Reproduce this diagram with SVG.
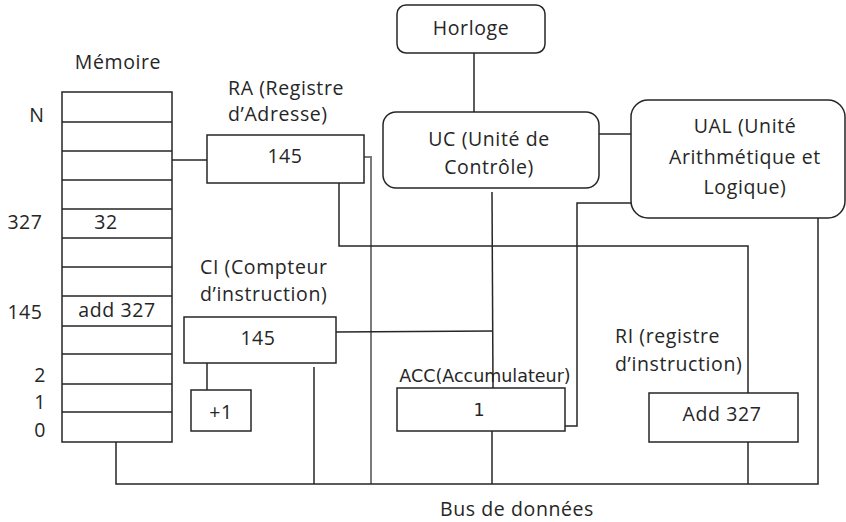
<svg xmlns="http://www.w3.org/2000/svg" width="846" height="522" viewBox="0 0 846 522">
<style>
.box{fill:#fff;stroke:#262626;stroke-width:1.5}
.ln{fill:none;stroke:#262626;stroke-width:1.5}
.gl{fill:none;stroke:#7a7a7a;stroke-width:2}
text{font-family:"Open Sans","Liberation Sans",sans-serif;font-size:19.5px;letter-spacing:0.6px;fill:#262626}
.m{text-anchor:middle}
.dv{font-family:"DejaVu Sans",sans-serif;font-size:17.5px;letter-spacing:0}
</style>
<rect width="846" height="522" fill="#fff"/>
<g id="connectors">
<line class="ln" x1="172" y1="160" x2="207" y2="160"/>
<polyline class="gl" points="364,157 371,157 371,484"/>
<polyline class="ln" points="339,183 339,246 748,246 748,393"/>
<line class="ln" x1="474" y1="53" x2="474" y2="112"/>
<line class="ln" x1="599" y1="134" x2="631" y2="134"/>
<polyline class="ln" points="631,203 577,203 577,426 565,426"/>
<line class="ln" x1="492" y1="192" x2="493" y2="388"/>
<line class="ln" x1="336" y1="332" x2="493" y2="331"/>
<line class="ln" x1="207" y1="363" x2="207" y2="390"/>
<line class="ln" x1="314" y1="367" x2="314" y2="484"/>
<polyline class="ln" points="116,442 116,484 818,484 818,218"/>
<line class="ln" x1="492" y1="431" x2="492" y2="484"/>
<line class="ln" x1="748" y1="442" x2="748" y2="484"/>
</g>
<g id="memoire">
<text class="m" x="118" y="69">Mémoire</text>
<rect class="box" x="62" y="92" width="110" height="350"/>
<path class="ln" d="M62 122H172M62 151H172M62 180H172M62 209H172M62 238H172M62 267H172M62 296H172M62 326H172M62 354H172M62 384H172M62 412H172"/>
<text class="m" x="37" y="122">N</text>
<text class="m" x="25" y="229">327</text>
<text class="m" x="106" y="229">32</text>
<text class="m" x="25" y="319">145</text>
<text class="m" x="117" y="317">add 327</text>
<text class="m" x="40" y="382">2</text>
<text class="m" x="40" y="409">1</text>
<text class="m" x="40" y="437">0</text>
</g>
<g id="ra">
<text x="228" y="95">RA (Registre</text>
<text x="228" y="121">d’Adresse)</text>
<rect class="box" x="207" y="135" width="157" height="48"/>
<text class="m" x="285" y="163">145</text>
</g>
<g id="horloge">
<rect class="box" x="397" y="5" width="148" height="48" rx="9"/>
<text class="m" x="471" y="35">Horloge</text>
</g>
<g id="uc">
<rect class="box" x="383" y="112" width="216" height="76" rx="13"/>
<text class="m" x="489" y="146">UC (Unité de</text>
<text class="m" x="489" y="174">Contrôle)</text>
</g>
<g id="ual">
<rect class="box" x="631" y="100" width="214" height="118" rx="17"/>
<text class="m" x="745" y="133">UAL (Unité</text>
<text class="m" x="745" y="164">Arithmétique et</text>
<text class="m" x="745" y="194">Logique)</text>
</g>
<g id="ci">
<text x="200" y="274">CI (Compteur</text>
<text x="200" y="301">d’instruction)</text>
<rect class="box" x="184" y="317" width="152" height="46"/>
<text class="m" x="258" y="345">145</text>
</g>
<g id="plus1">
<rect class="box" x="191" y="390" width="60" height="41"/>
<text class="m" x="221" y="419">+1</text>
</g>
<g id="acc">
<text class="m dv" x="485" y="382">ACC(Accumulateur)</text>
<rect class="box" x="397" y="388" width="168" height="43"/>
<text class="m dv" x="479" y="416">1</text>
</g>
<g id="ri">
<text x="615" y="343">RI (registre</text>
<text x="615" y="371">d’instruction)</text>
<rect class="box" x="649" y="393" width="149" height="49"/>
<text class="m" x="722" y="421">Add 327</text>
</g>
<g id="bus">
<text class="m" x="517" y="516">Bus de données</text>
</g>
</svg>
